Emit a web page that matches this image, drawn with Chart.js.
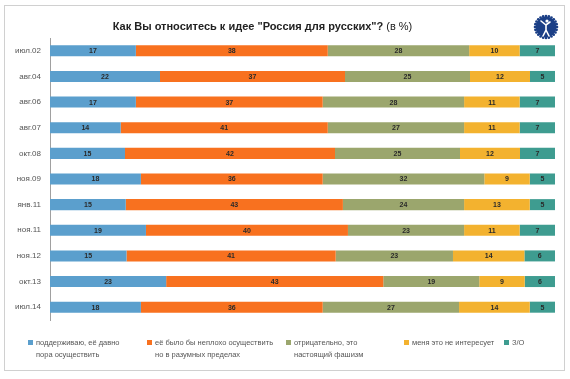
<!DOCTYPE html>
<html><head><meta charset="utf-8">
<script src="https://cdn.jsdelivr.net/npm/chart.js@4.4.1/dist/chart.umd.min.js"></script>
<style>
html,body{margin:0;padding:0;background:#fff;}
#wrap{position:relative;width:570px;height:379px;overflow:hidden;}
#frame{position:absolute;left:4px;top:5px;width:561px;height:366px;border:1px solid #d0d0d0;box-sizing:border-box;}
canvas{position:absolute;left:0;top:0;}
#title{position:absolute;left:0;top:20px;width:525px;text-align:center;font:bold 11px "Liberation Sans",Arial,sans-serif;color:#222;white-space:nowrap;}
#title span{font-weight:normal;}
.lg{position:absolute;top:337px;font:7.5px "Liberation Sans",Arial,sans-serif;color:#555;line-height:12px;white-space:nowrap;}
.lg i{display:inline-block;width:5px;height:5px;margin-right:3px;vertical-align:0px;}
</style></head>
<body><div id="wrap"><div id="frame"></div><canvas id="c" width="570" height="379"></canvas>
<div id="title">Как Вы относитесь к идее "Россия для русских"? <span>(в %)</span></div>
<div id="legend"></div>
</div>
<script>
const categories = ["июл.02","авг.04","авг.06","авг.07","окт.08","ноя.09","янв.11","ноя.11","ноя.12","окт.13","июл.14"];
const seriesNames = [["поддерживаю, её давно","пора осуществить"],["её было бы неплохо осуществить","но в разумных пределах"],["отрицательно, это","настоящий фашизм"],["меня это не интересует"],["З/О"]];
const support   = [17,22,17,14,15,18,15,19,15,23,18];
const reasonable= [38,37,37,41,42,36,43,40,41,43,36];
const negative  = [28,25,28,27,25,32,24,23,23,19,27];
const notInterested = [10,12,11,11,12,9,13,11,14,9,14];
const noAnswer  = [7,5,7,7,7,5,5,7,6,6,5];
const colors = ["#5b9fcd","#f8711f","#9ba66d","#f3b22f","#3e9c90"];
const legendX = [28,147,286,404,504];

const raw = [support,reasonable,negative,notInterested,noAnswer];
const totals = categories.map((_,i)=>raw.reduce((s,a)=>s+a[i],0));
const datasets = raw.map((arr,k)=>({
  label: seriesNames[k].join(" "),
  data: arr.map((v,i)=>v/totals[i]*100),
  rawValues: arr,
  backgroundColor: colors[k],
  borderWidth: 0,
  categoryPercentage: 1,
  barPercentage: 0.43
}));

const lg = document.getElementById('legend');
seriesNames.forEach((n,k)=>{
  const d=document.createElement('div');d.className='lg';d.style.left=legendX[k]+'px';
  d.innerHTML='<i style="background:'+colors[k]+'"></i>'+n[0]+(n[1]?'<br><span style="padding-left:8px">'+n[1]+'</span>':'');
  lg.appendChild(d);
});

const labelPlugin = {
  id:'vals',
  afterDatasetsDraw(chart){
    const ctx=chart.ctx;ctx.save();
    ctx.font='bold 7px "Liberation Sans",Arial,sans-serif';ctx.fillStyle='#2a2a2a';
    ctx.textAlign='center';ctx.textBaseline='middle';
    chart.data.datasets.forEach((ds,k)=>{
      chart.getDatasetMeta(k).data.forEach((el,i)=>{
        ctx.fillText(String(ds.rawValues[i]),(el.x+el.base)/2,el.y+0.5);
      });
    });
    // logo
    const cx=546,cy=27,r=11;
    ctx.fillStyle='#1b3f86';
    for(let a=0;a<24;a++){const t=a/24*Math.PI*2;ctx.beginPath();ctx.arc(cx+Math.cos(t)*r,cy+Math.sin(t)*r,1.3,0,Math.PI*2);ctx.fill();}
    ctx.beginPath();ctx.arc(cx,cy,r-0.5,0,Math.PI*2);ctx.fill();
    ctx.strokeStyle='#fff';ctx.lineWidth=1.6;ctx.lineCap='round';
    ctx.beginPath();ctx.arc(cx+1,cy-6,1.6,0,Math.PI*2);ctx.fillStyle='#fff';ctx.fill();
    ctx.beginPath();ctx.moveTo(cx-5,cy-6);ctx.lineTo(cx,cy-2);ctx.lineTo(cx+4,cy-5);
    ctx.moveTo(cx,cy-2);ctx.lineTo(cx,cy+3);ctx.lineTo(cx-3,cy+9);ctx.moveTo(cx,cy+3);ctx.lineTo(cx+3,cy+9);
    ctx.stroke();
    ctx.restore();
  }
};

new Chart(document.getElementById('c'),{
  type:'bar',
  data:{labels:categories,datasets},
  options:{
    indexAxis:'y',responsive:false,animation:false,
    layout:{padding:{left:0,right:15,top:38,bottom:59}},
    plugins:{legend:{display:false},tooltip:{enabled:false}},
    scales:{
      x:{stacked:true,min:0,max:100,display:false},
      y:{stacked:true,
         grid:{display:false,drawTicks:false},
         border:{display:true,color:'#a0a0a0',width:1},
         ticks:{color:'#555',padding:9,font:{family:'"Liberation Sans",Arial,sans-serif',size:8}},
         afterFit(s){s.width=50;}
      }
    }
  },
  plugins:[labelPlugin]
});
</script></body></html>
